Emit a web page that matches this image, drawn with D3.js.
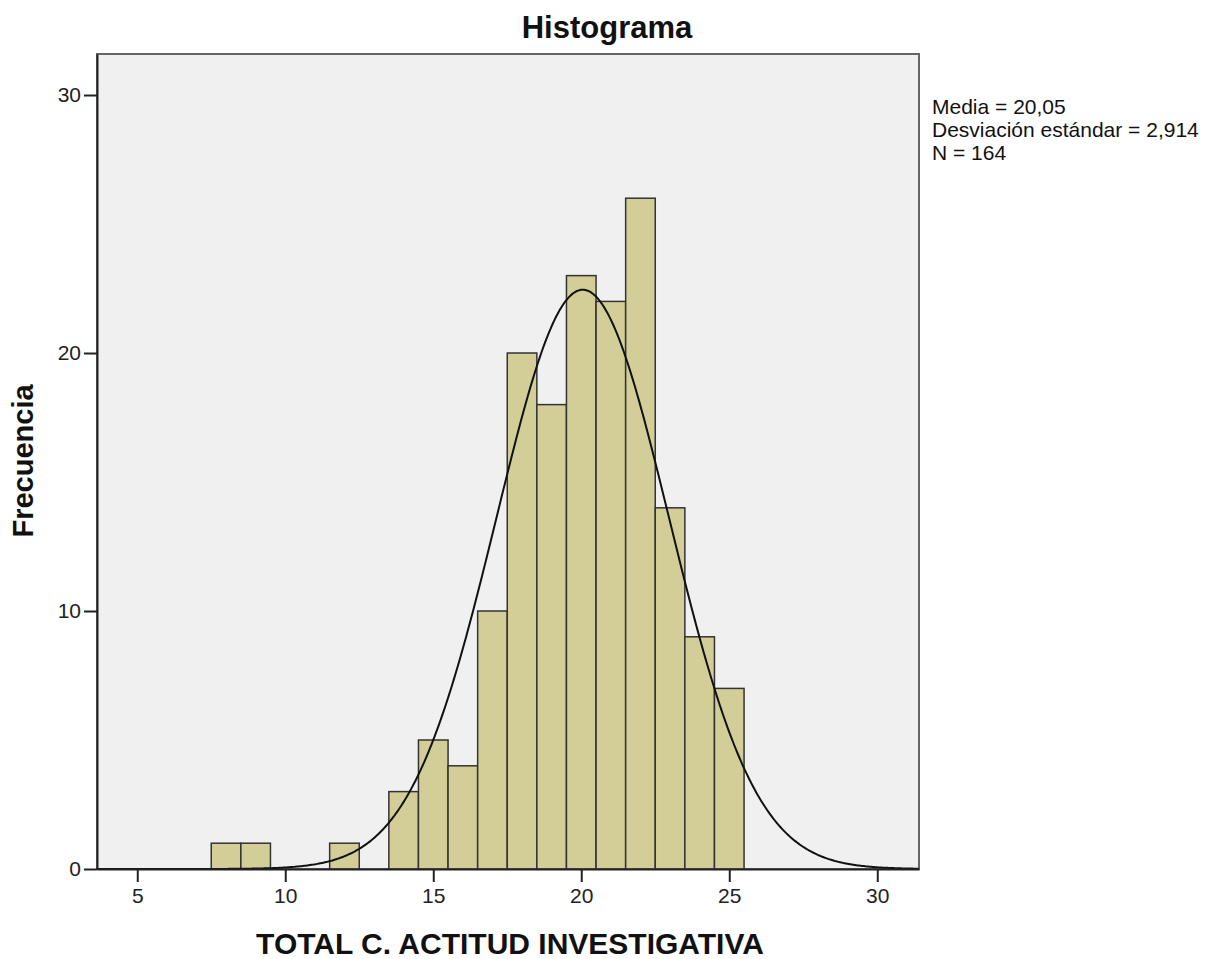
<!DOCTYPE html>
<html lang="es">
<head>
<meta charset="UTF-8">
<title>Histograma</title>
<style>
    body { margin:0; background:#fff; }
    .axis path, .axis line { stroke:#222; stroke-width:2px; }
</style>
</head>
<body>
<script src="https://cdn.jsdelivr.net/npm/d3@7/dist/d3.min.js"></script>
<script>
// valores de cada barra (centro de la clase, frecuencia)
var binCenters = [8, 9, 12, 14, 15, 16, 17, 18, 19, 20, 21, 22, 23, 24, 25];
var frequencies = [1, 1, 1, 3, 5, 4, 10, 20, 18, 23, 22, 26, 14, 9, 7];
var xTicks = [5, 10, 15, 20, 25, 30];
var yTicks = [0, 10, 20, 30];
var media = 20.05, desv = 2.914, n = 164, binWidth = 1;
var statsLines = ["Media = 20,05", "Desviación estándar = 2,914", "N = 164"];

var w = 1212, h = 959;
var mLeft = 97, mRight = 919, mTop = 54, mBottom = 869;

var svg = d3.select("body").append("svg").attr("width", w).attr("height", h);

var xScale = d3.scaleLinear().domain([3.64, 31.41]).range([mLeft, mRight]);
var yScale = d3.scaleLinear().domain([0, 31.59]).range([mBottom, mTop]);

// fondo del área
svg.append("rect")
    .attr("x", mLeft).attr("y", mTop)
    .attr("width", mRight - mLeft).attr("height", mBottom - mTop)
    .attr("fill", "#f0f0f0")
    .attr("stroke", "#666").attr("stroke-width", 2);

var bars = binCenters.map(function (c, i) { return {c: c, f: frequencies[i]}; });

svg.selectAll("rect.bar")
    .data(bars)
    .enter()
    .append("rect")
    .attr("class", "bar")
    .attr("x", function (d) { return xScale(d.c - binWidth / 2); })
    .attr("y", function (d) { return yScale(d.f); })
    .attr("width", function (d) { return xScale(d.c + binWidth / 2) - xScale(d.c - binWidth / 2); })
    .attr("height", function (d) { return yScale(0) - yScale(d.f); })
    .attr("fill", "#d3ce97")
    .attr("stroke", "#333")
    .attr("stroke-width", 1.5);

// curva normal con media, desviación y N
var curve = d3.range(3.64, 31.41, 0.05).map(function (x) {
    var z = (x - media) / desv;
    return [x, n * binWidth * Math.exp(-0.5 * z * z) / (desv * Math.sqrt(2 * Math.PI))];
});
svg.append("path")
    .datum(curve)
    .attr("fill", "none")
    .attr("stroke", "#111")
    .attr("stroke-width", 2)
    .attr("d", d3.line()
        .x(function (d) { return xScale(d[0]); })
        .y(function (d) { return yScale(d[1]); }));

var xAxis = d3.axisBottom(xScale).tickValues(xTicks).tickSize(13).tickPadding(6).tickSizeOuter(0);
var yAxis = d3.axisLeft(yScale).tickValues(yTicks).tickSize(13).tickPadding(3).tickSizeOuter(0);
svg.append("g").attr("class", "axis").attr("transform", "translate(0," + mBottom + ")").call(xAxis);
svg.append("g").attr("class", "axis").attr("transform", "translate(" + mLeft + ",0)").call(yAxis);
svg.selectAll(".axis")
    .attr("font-family", "Liberation Sans, Arial, sans-serif")
    .attr("font-size", 21);
svg.selectAll(".axis text").attr("fill", "#222");

svg.append("text")
    .attr("x", 607).attr("y", 38)
    .attr("text-anchor", "middle")
    .attr("font-family", "Liberation Sans, Arial, sans-serif")
    .attr("font-weight", "bold").attr("font-size", "31px")
    .attr("fill", "#111")
    .text("Histograma");

svg.append("text")
    .attr("x", 510).attr("y", 954)
    .attr("text-anchor", "middle")
    .attr("font-family", "Liberation Sans, Arial, sans-serif")
    .attr("font-weight", "bold").attr("font-size", "30px")
    .attr("fill", "#111")
    .text("TOTAL C. ACTITUD INVESTIGATIVA");

svg.append("text")
    .attr("transform", "translate(33,461) rotate(-90)")
    .attr("text-anchor", "middle")
    .attr("font-family", "Liberation Sans, Arial, sans-serif")
    .attr("font-weight", "bold").attr("font-size", "29px")
    .attr("fill", "#111")
    .text("Frecuencia");

svg.selectAll("text.stats")
    .data(statsLines)
    .enter()
    .append("text")
    .attr("class", "stats")
    .attr("x", 932)
    .attr("y", function (d, i) { return 114 + i * 23; })
    .attr("font-family", "Liberation Sans, Arial, sans-serif")
    .attr("font-size", "21px")
    .attr("fill", "#111")
    .text(function (d) { return d; });
</script>
</body>
</html>
